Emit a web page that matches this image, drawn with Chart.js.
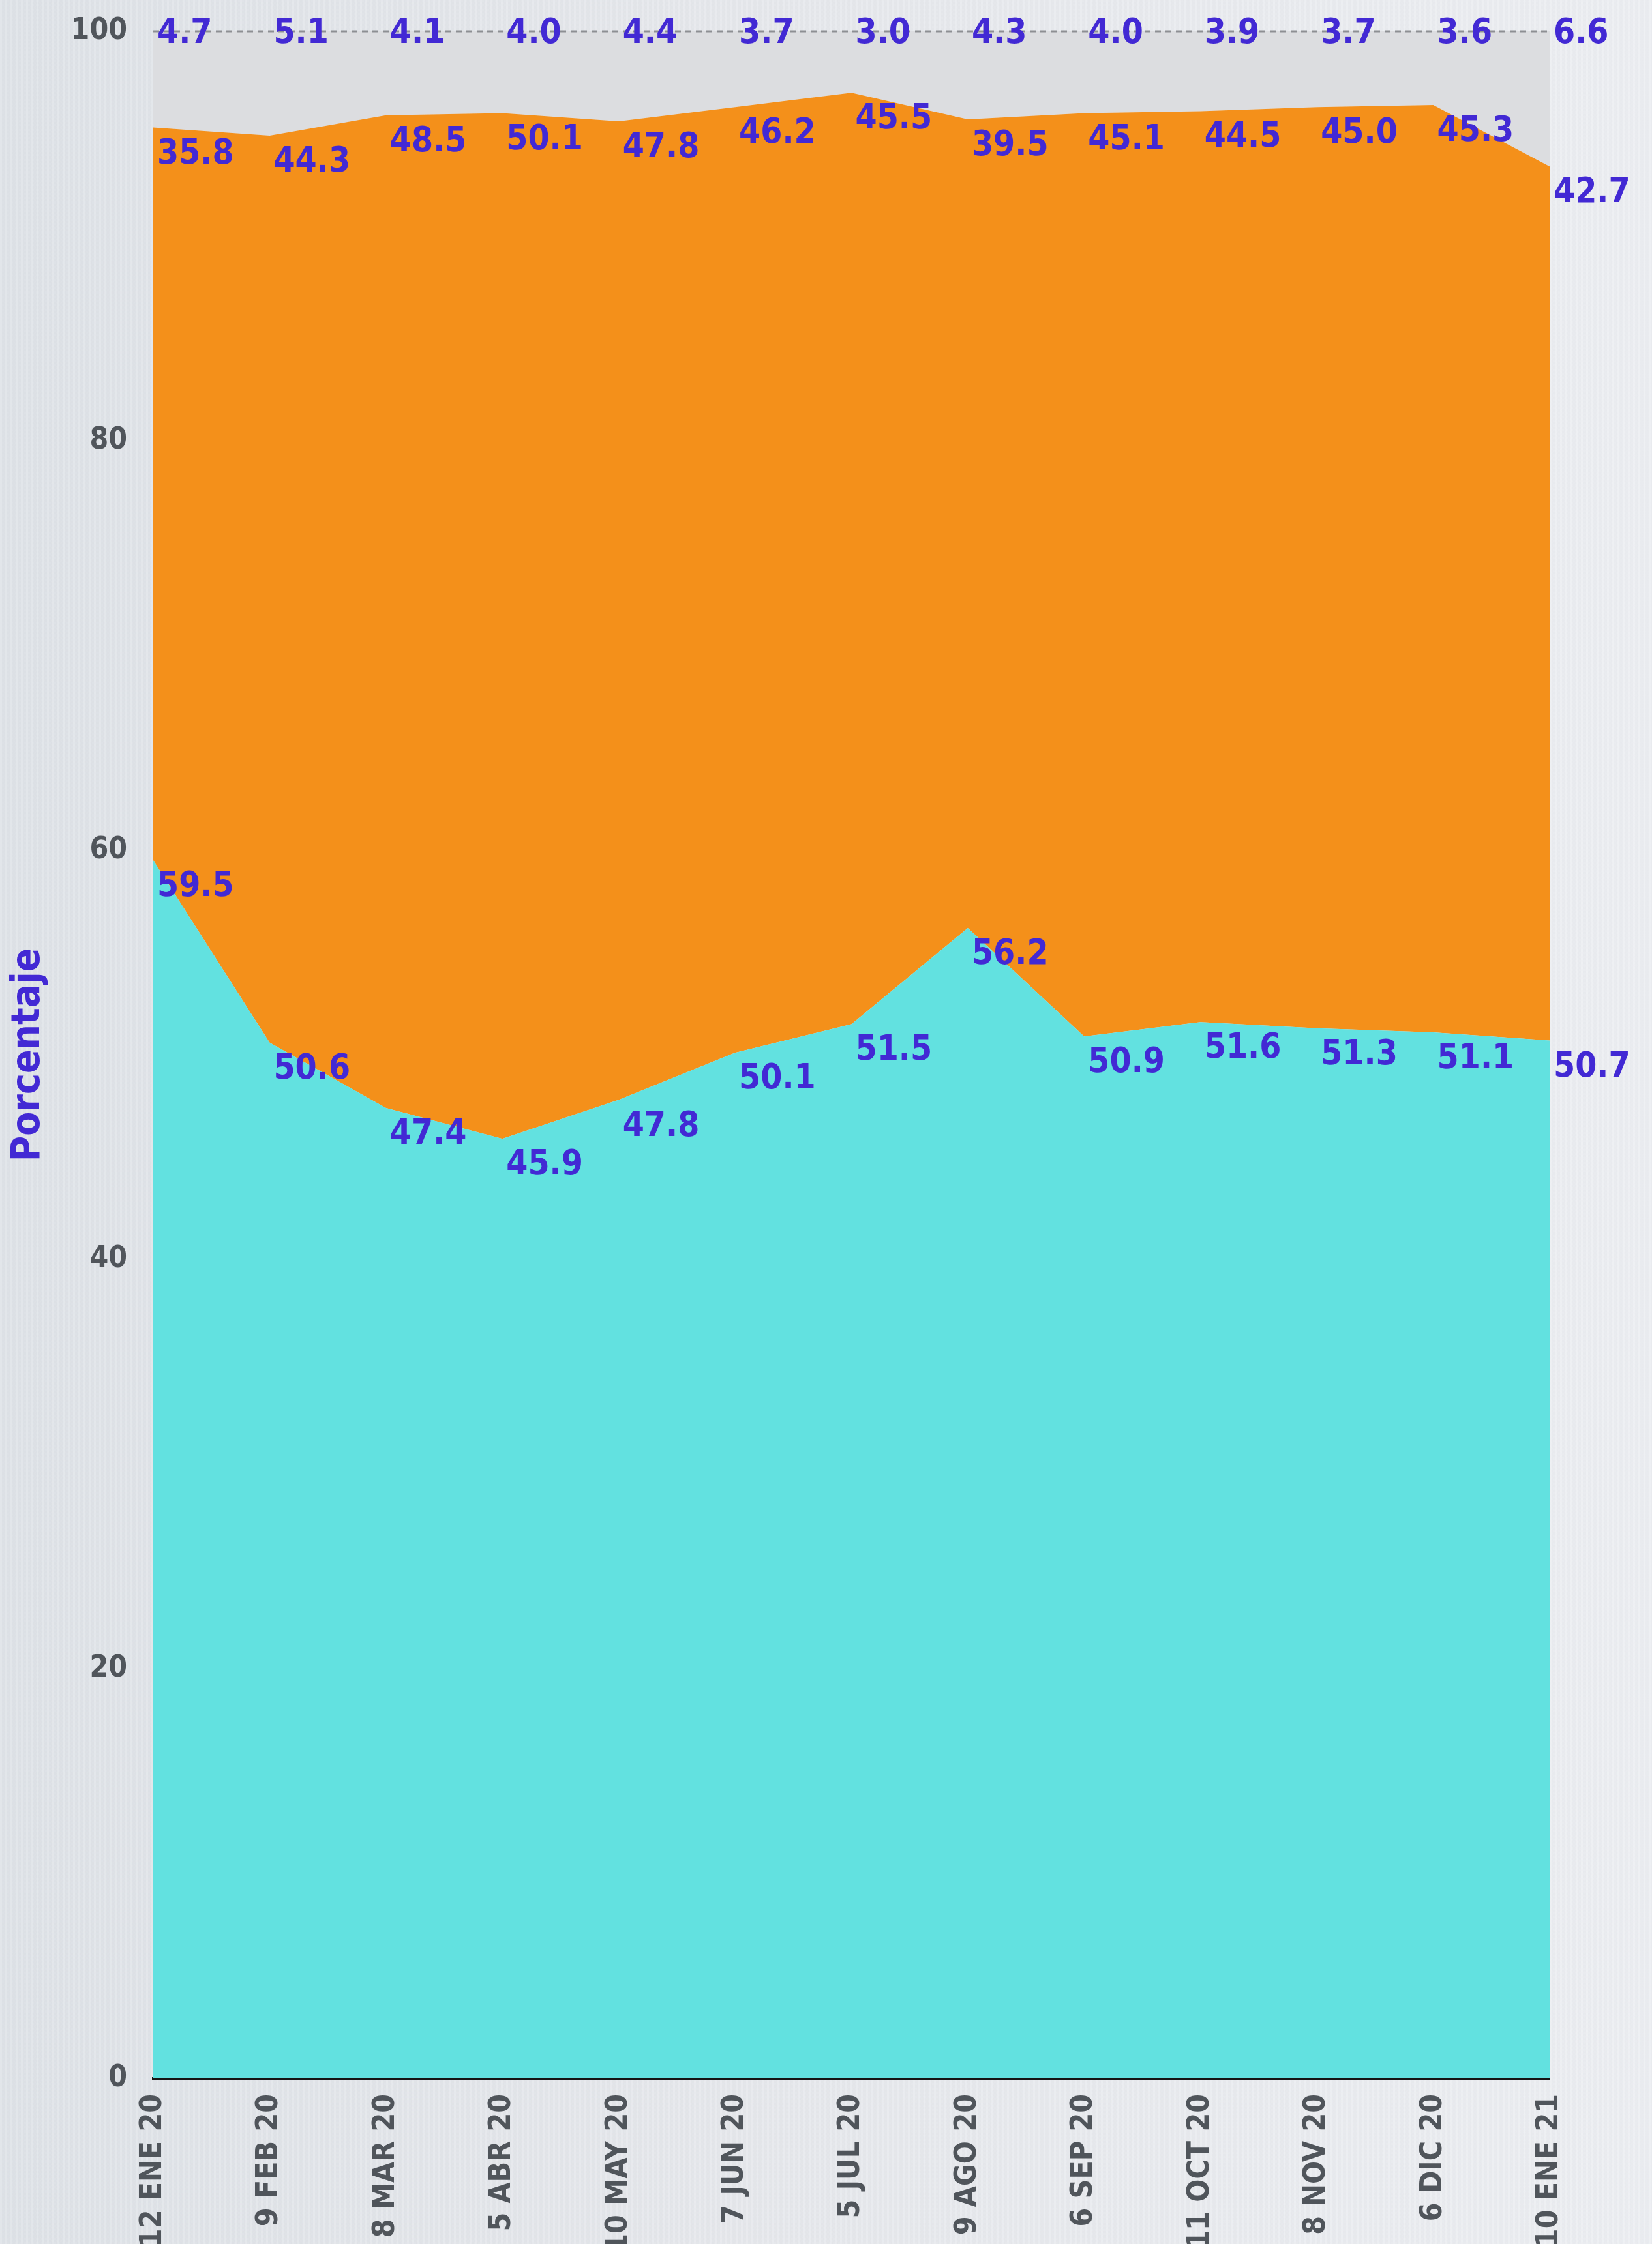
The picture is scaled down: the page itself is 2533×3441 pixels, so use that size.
<!DOCTYPE html>
<html>
<head>
<meta charset="utf-8">
<script src="https://cdn.jsdelivr.net/npm/chart.js@4.4.0/dist/chart.umd.min.js"></script>
<style>
  html, body { margin: 0; padding: 0; }
  body {
    width: 2533px; height: 3441px; overflow: hidden;
    background:
      repeating-linear-gradient(90deg, rgba(255,255,255,0.10) 0 3px, rgba(0,0,0,0.012) 3px 8px),
      linear-gradient(to right, #dfe3e8 0%, #e6e8ec 45%, #eceef2 100%);
  }
  canvas { display: block; }
</style>
</head>
<body>
<canvas id="chart" width="2533" height="3441"></canvas>
<script>
// fechas de las encuestas
const fechas = ['12 ENE 20', '9 FEB 20', '8 MAR 20', '5 ABR 20', '10 MAY 20', '7 JUN 20', '5 JUL 20',
  '9 AGO 20', '6 SEP 20', '11 OCT 20', '8 NOV 20', '6 DIC 20', '10 ENE 21'];

// porcentajes por serie (apiladas hasta 100)
const serieCyan = [59.5, 50.6, 47.4, 45.9, 47.8, 50.1, 51.5, 56.2, 50.9, 51.6, 51.3, 51.1, 50.7];
const serieNaranja = [35.8, 44.3, 48.5, 50.1, 47.8, 46.2, 45.5, 39.5, 45.1, 44.5, 45.0, 45.3, 42.7];
const serieGris = [4.7, 5.1, 4.1, 4.0, 4.4, 3.7, 3.0, 4.3, 4.0, 3.9, 3.7, 3.6, 6.6];

const yTicks = [0, 20, 40, 60, 80, 100];

const FONT = "'DejaVu Sans Condensed', 'DejaVu Sans', sans-serif";
const LABEL_COLOR = '#4229d4';

// dotted line at 100 and value labels, drawn on top of the areas
const labelsPlugin = {
  id: 'labels',
  afterDatasetsDraw(chart) {
    const ctx = chart.ctx;
    const area = chart.chartArea;
    const y100 = chart.scales.y.getPixelForValue(100);

    ctx.save();
    ctx.strokeStyle = '#8d8f93';
    ctx.lineWidth = 3;
    ctx.setLineDash([9, 7]);
    ctx.beginPath();
    ctx.moveTo(area.left, y100);
    ctx.lineTo(area.right, y100);
    ctx.stroke();
    ctx.setLineDash([]);

    ctx.font = 'bold 53px ' + FONT;
    ctx.fillStyle = LABEL_COLOR;
    ctx.textAlign = 'left';
    chart.data.datasets.forEach((ds, i) => {
      const meta = chart.getDatasetMeta(i);
      meta.data.forEach((pt, j) => {
        const txt = ds.data[j].toFixed(1);
        if (i === 2) {
          ctx.textBaseline = 'middle';
          ctx.fillText(txt, pt.x + 6, pt.y + 4);
        } else {
          ctx.textBaseline = 'alphabetic';
          ctx.fillText(txt, pt.x + 6, pt.y + 55);
        }
      });
    });
    ctx.restore();
  }
};

new Chart(document.getElementById('chart'), {
  type: 'line',
  data: {
    labels: fechas,
    datasets: [
      { data: serieCyan, backgroundColor: '#62e1e0', fill: 'origin', borderWidth: 0, pointRadius: 0 },
      { data: serieNaranja, backgroundColor: '#f4901a', fill: '-1', borderWidth: 0, pointRadius: 0 },
      { data: serieGris, backgroundColor: '#dcdde0', fill: '-1', borderWidth: 0, pointRadius: 0 }
    ]
  },
  options: {
    responsive: false,
    devicePixelRatio: 1,
    animation: false,
    layout: { padding: { left: 0, right: 157, top: 48, bottom: 0 } },
    elements: { line: { tension: 0 } },
    plugins: {
      legend: { display: false },
      tooltip: { enabled: false }
    },
    scales: {
      x: {
        offset: false,
        grid: { display: false, drawTicks: false },
        border: { display: true, color: '#151515', width: 4 },
        ticks: {
          autoSkip: false,
          minRotation: 90,
          maxRotation: 90,
          padding: 24,
          color: '#50555b',
          font: { family: FONT, size: 46, weight: 'bold' }
        },
        afterFit: s => { s.height = 254; }
      },
      y: {
        stacked: true,
        min: 0,
        max: 100,
        afterBuildTicks: s => { s.ticks = yTicks.map(v => ({ value: v })); },
        grid: { display: false, drawTicks: true, tickLength: 40 },
        border: { display: false },
        ticks: {
          padding: 0,
          color: '#50555b',
          font: { family: FONT, size: 46, weight: 'bold' }
        },
        title: {
          display: true,
          text: 'Porcentaje',
          color: LABEL_COLOR,
          padding: { top: 8, bottom: 0 },
          font: { family: FONT, size: 60, weight: 'bold' }
        },
        afterFit: s => { s.width = 235; }
      }
    }
  },
  plugins: [labelsPlugin]
});
</script>
</body>
</html>
